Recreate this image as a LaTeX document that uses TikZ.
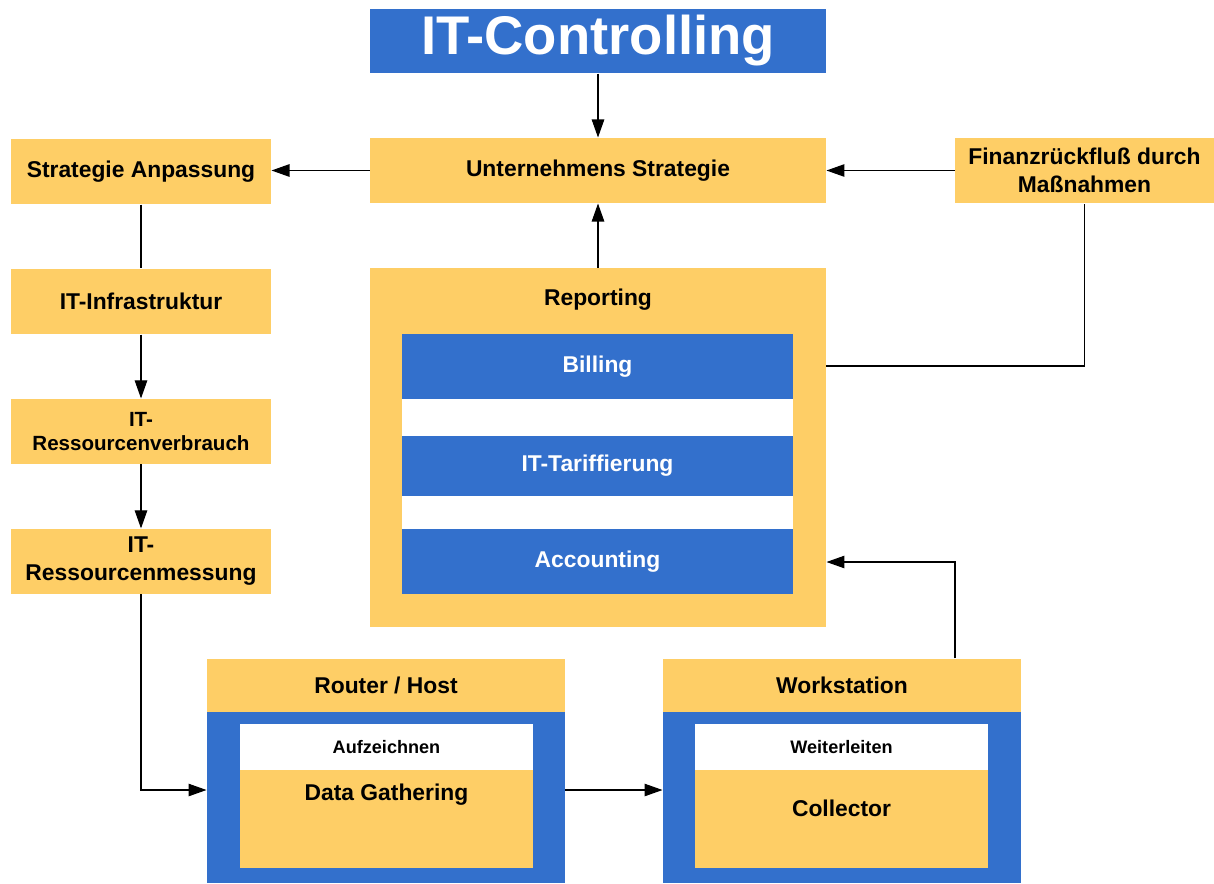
\documentclass[tikz,border=0pt]{standalone}
\usepackage{fontspec}
\setmainfont{Liberation Sans}
\usetikzlibrary{arrows.meta, positioning}
\definecolor{boxyellow}{HTML}{FECE66}
\definecolor{boxblue}{HTML}{3370CC}

\begin{document}
\begin{tikzpicture}[x=0.02cm, y=-0.02cm, on grid, line width=0.6pt,
        font=\bfseries\fontsize{13}{16}\selectfont,
        yellowbox/.style={fill=boxyellow, inner sep=0pt, align=center},
        bluebox/.style={fill=boxblue, text=white, inner sep=0pt, align=center},
        whitebox/.style={fill=white, inner sep=0pt, align=center},
        wide/.style={minimum width=9.12cm, minimum height=1.3cm},
        side/.style={minimum width=5.2cm, minimum height=1.3cm},
        band/.style={minimum width=7.82cm, minimum height=1.3cm},
        small/.style={font=\bfseries\fontsize{10.3}{12}\selectfont},
        arr/.style={-{Triangle[length=0.36cm, width=0.25cm]}}]
        \useasboundingbox (0,0) rectangle (1214,883);

        % top row
        \node[bluebox, minimum width=9.12cm, minimum height=1.28cm,
              font=\bfseries\fontsize{31}{36}\selectfont] (title) at (598,41) {\raisebox{-2pt}{IT-Controlling}};
        \node[yellowbox, wide] (strat) at (598,170.5) {Unternehmens Strategie};
        \node[yellowbox, minimum width=5.18cm, minimum height=1.3cm] (finanz) at (1084.5,170.5) {Finanzrückfluß durch\\Maßnahmen};

        % left column
        \node[yellowbox, side] (anp) at (141,171.5) {Strategie Anpassung};
        \node[yellowbox, side, below=2.6cm of anp] (infra) {IT-Infrastruktur};
        \node[yellowbox, side, below=2.6cm of infra,
              font=\bfseries\fontsize{11.7}{14}\selectfont] (verbrauch) {IT-\\Ressourcenverbrauch};
        \node[yellowbox, side, below=2.6cm of verbrauch] (messung) {IT-\\Ressourcenmessung};

        % reporting
        \node[yellowbox, minimum width=9.12cm, minimum height=7.18cm] (rep) at (598,447.5) {};
        \node (reptitle) at (598,300) {Reporting};
        \node[whitebox, minimum width=7.82cm, minimum height=5.2cm] (repinner) at (597.5,464) {};
        \node[bluebox, band] (billing) at (597.5,366.5) {Billing};
        \node[bluebox, band, minimum height=1.2cm] (tarif) at (597.5,466) {IT-Tariffierung};
        \node[bluebox, band] (acc) at (597.5,561.5) {Accounting};

        % router / host
        \node[yellowbox, minimum width=7.16cm, minimum height=1.06cm] (rhead) at (386,685.5) {Router / Host};
        \node[bluebox, minimum width=7.16cm, minimum height=3.42cm] (rbody) at (386,797.5) {};
        \node[whitebox, small, minimum width=5.86cm, minimum height=0.92cm] (rrec) at (386.5,747) {Aufzeichnen};
        \node[yellowbox, minimum width=5.86cm, minimum height=1.96cm,
              label={[anchor=center, yshift=-0.5cm]north:Data Gathering}] (rgather) at (386.5,819) {};

        % workstation
        \node[yellowbox, minimum width=7.16cm, minimum height=1.06cm] (whead) at (842,685.5) {Workstation};
        \node[bluebox, minimum width=7.16cm, minimum height=3.42cm] (wbody) at (842,797.5) {};
        \node[whitebox, small, minimum width=5.86cm, minimum height=0.92cm] (wfwd) at (841.5,747) {Weiterleiten};
        \node[yellowbox, minimum width=5.86cm, minimum height=1.96cm,
              label={[anchor=center, yshift=-0.78cm]north:Collector}] (wcoll) at (841.5,819) {};

        % connectors
        \draw[arr] (title) -- (strat);
        \draw[arr] (strat) -- (strat -| anp.east);
        \draw[arr] (finanz) -- (strat);
        \draw[arr] (rep) -- (strat);
        \draw (anp) -- (infra);
        \draw[arr] (infra) -- (verbrauch);
        \draw[arr] (verbrauch) -- (messung);
        \draw[arr] (messung) |- (rbody.west |- 0,790);
        \draw[arr] (rbody.east |- 0,790) -- (wbody.west |- 0,790);
        \draw[arr] (whead.north -| 955,0) |- (rep.east |- 0,562);
        \draw (rep.east |- 0,366) -| (finanz);
\end{tikzpicture}
\end{document}
